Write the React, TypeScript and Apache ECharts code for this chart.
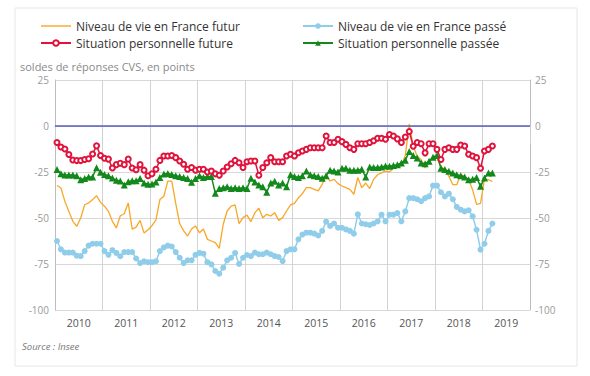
import React, { useEffect, useRef } from "react";
import * as echarts from "echarts";

const years = ["2010", "2011", "2012", "2013", "2014", "2015", "2016", "2017", "2018", "2019"];
const yTicks = [-100, -75, -50, -25, 0, 25];

// Niveau de vie en France futur (monthly, Jan 2010 – Mar 2019)
const niveauFutur = [
  -32.3, -33.7, -41, -46.4, -51.8, -54.5, -50, -42.8, -41.8, -40, -37.9, -41.5,
  -43.6, -46.4, -51.8, -55.4, -48.8, -47.7, -41.8, -56, -55, -51.3, -58.2, -56.4,
  -54.2, -51, -40, -38.2, -30, -30, -42, -53, -57, -59.8, -56, -54.3,
  -58, -56, -61.6, -62.5, -63.4, -66.5, -53.4, -46.2, -43.5, -42.9, -53, -49.8,
  -48.4, -52, -47.1, -44.7, -49.8, -48, -48.9, -47.1, -51.3, -49.8, -46.2, -42.9,
  -42, -39, -36.8, -33.5, -33.5, -34.4, -35.3, -31.7, -27.2, -29.9, -29, -31.3,
  -32.6, -33.5, -34.4, -37.1, -28, -33.5, -31, -34, -29, -26.5, -25.5, -24.5,
  -25, -23, -22.5, -21.5, -16, 1, -11, -16.5, -18.3, -22.8, -20.1, -16.8,
  -16.1, -22, -23.7, -27.3, -31.9, -31.9, -26.4, -27.3, -29.2, -34.6, -42.6, -42,
  -29, -29.2, -30.1,
];

// Niveau de vie en France passé
const niveauPasse = [
  -62.5, -67, -68.8, -68.8, -68.8, -70.5, -70.7, -68, -65, -64, -64, -64,
  -68, -70, -67.5, -69, -70.8, -68.5, -68.5, -68.5, -72, -74.5, -73.5, -74,
  -74, -73.5, -68, -66, -65, -65.5, -68.5, -71.6, -74.5, -73, -73, -70,
  -69, -69.4, -74, -75.2, -78.8, -80.3, -77, -73, -71.6, -69, -75, -71.6,
  -70.1, -70.7, -68.8, -69.7, -69.7, -68.8, -69.7, -70.7, -71.2, -73.4, -68, -67,
  -67, -61.6, -59, -58, -58, -58.5, -59.5, -57, -52, -54.3, -53, -55.3,
  -55.3, -56.2, -57, -58.5, -48, -53, -53.4, -53.8, -53, -51.8, -48.2, -51.8,
  -48.2, -48.2, -47.3, -51.8, -46.4, -39.2, -39.2, -39.8, -40.9, -39.2, -38.3, -32.4,
  -32.4, -36, -38.3, -36.8, -39.8, -44, -45.5, -46.4, -45.8, -49.1, -56.4, -67.2,
  -64, -57, -53,
];

// Situation personnelle future
const persoFuture = [
  -9, -11.4, -12.5, -15.5, -18.5, -18.8, -18.8, -18.2, -17.8, -15.2, -10.8, -16,
  -17.5, -18, -22.8, -21, -20.2, -21, -18, -22.8, -23.8, -21, -24, -27,
  -26, -23.5, -18.7, -16.3, -16.3, -16, -17.2, -19, -20.8, -23.5, -22.6, -24,
  -23.5, -23.5, -25, -24.5, -26, -26.8, -24.5, -22.3, -20.5, -18.7, -20, -22.6,
  -19.4, -19, -19, -26.8, -22.6, -20, -17.2, -19.4, -19.4, -19.4, -16.3, -15.4,
  -16.3, -14.5, -13.6, -12.7, -11.8, -11.8, -11.8, -11.8, -5.4, -9, -9, -7.2,
  -8.5, -10, -11.8, -12.7, -9.6, -9.6, -9.6, -9, -8, -6.7, -6.7, -7.2,
  -4.6, -5.4, -7, -9, -6, -3, -11, -9, -9.6, -14.6, -9.6, -9.6,
  -12.7, -18.2, -12.7, -11.8, -12.7, -12.7, -10.3, -10.9, -15.4, -16.3, -17.2, -23,
  -13.6, -12.7, -10.9,
];

// Situation personnelle passée
const persoPassee = [
  -23.7, -25.9, -26.6, -26.6, -26.6, -27, -29.2, -28.5, -27.7, -27.7, -22.7, -25.2,
  -26.3, -27, -28.3, -29.5, -29.9, -32, -30.3, -29.8, -29.8, -28.6, -31, -31.7,
  -31.5, -30.5, -28, -26.1, -25.8, -26.4, -27, -27.4, -28, -28.5, -30.6, -28.6,
  -27, -28, -27.5, -27.5, -36.5, -34, -33.5, -33, -34, -33.5, -34, -33.5,
  -34, -28.4, -30.5, -32, -33, -36, -31, -30, -32, -31, -33, -26.5,
  -27.5, -28, -27, -24.5, -26.5, -27, -27.5, -28.4, -27, -24, -24.5, -25,
  -23, -23, -24, -24, -24, -23.5, -27.7, -22.3, -22.6, -22.6, -22.3, -21.7,
  -21.9, -21.5, -21, -20.1, -18.6, -13.8, -16.1, -17.4, -20.1, -20.5, -19.2, -17,
  -16, -23, -23.7, -24.6, -25.6, -26.5, -27, -27.7, -29.2, -29, -28, -32.8,
  -28.3, -25.5, -25.5,
];

const months: string[] = [];
years.forEach((y) => {
  for (let m = 1; m <= 12; m++) months.push(`${y}-${m < 10 ? "0" + m : m}`);
});

const FONT = "'Open Sans', 'Noto Sans', sans-serif";
const LINE_ICON = "path://M0,0H30V1.4H0Z";

export default function App() {
  const ref = useRef<HTMLDivElement>(null);

  useEffect(() => {
    if (!ref.current) return;
    const chart = echarts.init(ref.current, null, { renderer: "svg" });

    const yAxisBase = {
      type: "value",
      min: yTicks[0],
      max: yTicks[yTicks.length - 1],
      interval: 25,
      axisLine: { show: true, lineStyle: { color: "#bdbdbd", width: 1 } },
      axisTick: { show: false },
    };

    const legendBase = {
      top: 19,
      orient: "vertical",
      padding: 0,
      itemGap: 3,
      itemWidth: 30,
      itemHeight: 7,
      textStyle: { fontSize: 12, color: "#333", fontFamily: FONT, lineHeight: 14 },
    };

    chart.setOption({
      animation: false,
      backgroundColor: "#ffffff",
      textStyle: { fontFamily: FONT },
      grid: { left: 55, right: 60, top: 80, bottom: 66, containLabel: false },
      legend: [
        {
          ...legendBase,
          left: 40,
          data: [
            { name: "Niveau de vie en France futur", icon: LINE_ICON },
            "Situation personnelle future",
          ],
        },
        {
          ...legendBase,
          left: 302,
          data: ["Niveau de vie en France passé", "Situation personnelle passée"],
        },
      ],
      xAxis: [
        {
          type: "category",
          data: years,
          boundaryGap: true,
          position: "bottom",
          axisLine: { show: true, lineStyle: { color: "#bdbdbd" } },
          axisTick: { show: true, length: 18, lineStyle: { color: "#cfcfcf" } },
          axisLabel: { color: "#555", fontSize: 10.5, margin: 7, fontFamily: FONT },
          splitLine: { show: true, lineStyle: { color: "#d3d3d3", width: 1 } },
        },
        {
          type: "category",
          data: months,
          boundaryGap: true,
          show: false,
        },
      ],
      yAxis: [
        {
          ...yAxisBase,
          position: "left",
          axisLabel: { color: "#9a9a9a", fontSize: 10, margin: 6, fontFamily: FONT },
          splitLine: { show: true, lineStyle: { color: "#d8d8d8", width: 1 } },
        },
        {
          ...yAxisBase,
          position: "right",
          axisLabel: { color: "#9a9a9a", fontSize: 10, margin: 5, fontFamily: FONT },
          splitLine: { show: false },
        },
      ],
      series: [
        {
          name: "Niveau de vie en France futur",
          type: "line",
          xAxisIndex: 1,
          yAxisIndex: 0,
          data: niveauFutur,
          symbol: "none",
          lineStyle: { color: "#f8a726", width: 1.3 },
          itemStyle: { color: "#f8a726" },
          markLine: {
            silent: true,
            symbol: ["none", "none"],
            label: { show: false },
            lineStyle: { color: "#5c60c0", width: 1.5, type: "solid" },
            data: [{ yAxis: 0 }],
          },
        },
        {
          name: "Niveau de vie en France passé",
          type: "line",
          xAxisIndex: 1,
          yAxisIndex: 0,
          data: niveauPasse,
          symbol: "circle",
          symbolSize: 6,
          showAllSymbol: true,
          lineStyle: { color: "#8fcdea", width: 1.5 },
          itemStyle: { color: "#8fcdea" },
        },
        {
          name: "Situation personnelle passée",
          type: "line",
          xAxisIndex: 1,
          yAxisIndex: 0,
          data: persoPassee,
          symbol: "triangle",
          symbolSize: 7,
          showAllSymbol: true,
          lineStyle: { color: "#12891a", width: 1.5 },
          itemStyle: { color: "#12891a" },
        },
        {
          name: "Situation personnelle future",
          type: "line",
          xAxisIndex: 1,
          yAxisIndex: 0,
          data: persoFuture,
          symbol: "emptyCircle",
          symbolSize: 5,
          showAllSymbol: true,
          lineStyle: { color: "#e0133c", width: 1.5 },
          itemStyle: { color: "#e0133c", borderWidth: 1.6 },
        },
      ],
      graphic: [
        {
          type: "rect",
          silent: true,
          z: -1,
          shape: { x: 15, y: 8, width: 562, height: 358 },
          style: { fill: "none", stroke: "#e6e6e6", lineWidth: 1 },
        },
        {
          type: "text",
          left: 20,
          top: 61,
          style: {
            text: "soldes de réponses CVS, en points",
            fill: "#8a8a8a",
            fontSize: 11,
            fontFamily: FONT,
          },
        },
        {
          type: "text",
          left: 22,
          top: 341,
          style: {
            text: "Source : Insee",
            fill: "#777",
            fontSize: 9.5,
            fontStyle: "italic",
            fontWeight: "normal",
            fontFamily: FONT,
          },
        },
      ],
    });

    return () => chart.dispose();
  }, []);

  return (
    <div
      ref={ref}
      style={{ position: "fixed", left: 0, top: 0, width: 590, height: 376, background: "#fff" }}
    />
  );
}
